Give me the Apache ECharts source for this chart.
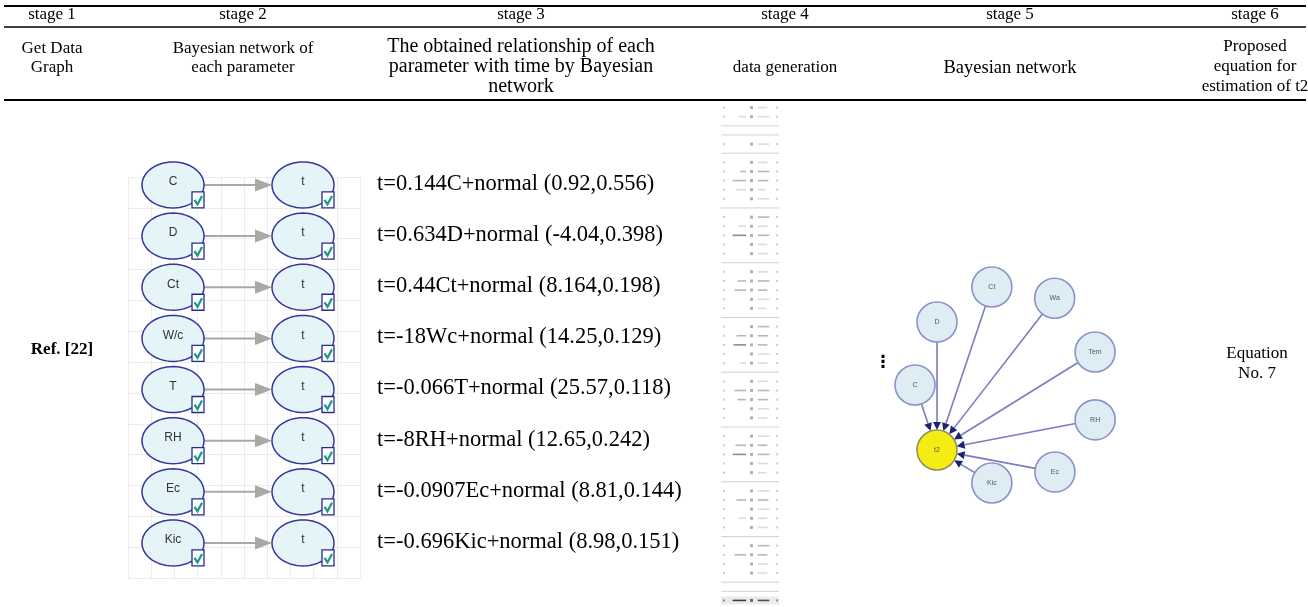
<!DOCTYPE html>
<html><head><meta charset="utf-8">
<script src="https://cdn.jsdelivr.net/npm/echarts@6/dist/echarts.min.js"></script>
<style>html,body{margin:0;padding:0;background:#fff}#c{width:1308px;height:607px}</style>
</head><body><div id="c"></div>
<script>
// ---------------- data ----------------
const stageLabels = ['stage 1', 'stage 2', 'stage 3', 'stage 4', 'stage 5', 'stage 6'];
const stageTitles = [
  ['Get Data', 'Graph'],
  ['Bayesian network of', 'each parameter'],
  ['The obtained relationship of each', 'parameter with time by Bayesian', 'network'],
  ['data generation'],
  ['Bayesian network'],
  ['Proposed', 'equation for', 'estimation of t2']
];
const refLabel = 'Ref. [22]';
const params = ['C', 'D', 'Ct', 'W/c', 'T', 'RH', 'Ec', 'Kic'];
const targetNode = 't';
const equations = [
  't=0.144C+normal (0.92,0.556)',
  't=0.634D+normal (-4.04,0.398)',
  't=0.44Ct+normal (8.164,0.198)',
  't=-18Wc+normal (14.25,0.129)',
  't=-0.066T+normal (25.57,0.118)',
  't=-8RH+normal (12.65,0.242)',
  't=-0.0907Ec+normal (8.81,0.144)',
  't=-0.696Kic+normal (8.98,0.151)'
];
const netNodes = ['C', 'D', 'Ct', 'Wa', 'Tem', 'RH', 'Ec', 'Kic'];
const netAngles = [108.7, 90, 71.4, 52.2, 31.8, 10.8, -10.6, -31];
const netRadii = [68.6, 128, 172, 192, 186, 161, 120, 64];
const netTarget = 't2';
const ellipsisMark = '\u22EE';
const resultText = ['Equation', 'No. 7'];
// data-generation strip rows: [type, col1 dash, col2 dash, shade]; type 0 = rule, 1 = row, 2 = dark row
const stripRows = [
  [1,0,10,0],[1,8,12,0],
  [0,0,0,0],[0,0,0,0],[1,0,12,0],[0,0,0,0],[1,0,10,0],[1,6,12,1],[1,14,11,1],[1,10,8,0],[1,0,12,0],
  [0,0,0,0],[1,0,12,1],[1,8,10,0],[1,14,12,2],[1,0,10,0],[1,0,11,0],
  [0,0,0,0],[1,0,11,0],[1,9,12,1],[1,12,10,1],[1,0,12,0],[1,0,9,0],
  [0,0,0,0],[1,0,12,1],[1,10,11,1],[1,13,10,2],[1,0,12,0],[1,6,10,0],
  [0,0,0,0],[1,0,11,0],[1,12,12,1],[1,9,11,1],[1,0,12,0],[1,0,10,0],
  [0,0,0,0],[1,0,12,0],[1,11,10,1],[1,14,12,2],[1,0,11,0],[1,0,9,0],
  [0,0,0,0],[1,0,12,0],[1,10,11,1],[1,0,12,0],[1,8,10,0],[1,0,11,0],
  [0,0,0,0],[1,0,12,1],[1,12,10,1],[1,0,11,0],[1,0,10,0],
  [0,0,0,0],[0,0,0,0],[2,14,12,2]
];

// ---------------- chart ----------------
const SERIF = '"Liberation Serif","Times New Roman",serif';
const chart = echarts.init(document.getElementById('c'));

function ellipsePts(cx, cy, rx, ry) {
  const pts = [];
  for (let k = 0; k < 60; k++) {
    const a = k / 60 * Math.PI * 2;
    pts.push([cx + rx * Math.cos(a), cy + ry * Math.sin(a)]);
  }
  return pts;
}
function txt(text, x, y, font, fill, align) {
  return { type: 'text', style: { text: text, x: x, y: y, font: font, fill: fill || '#000',
    align: align || 'center', verticalAlign: 'middle', textAlign: align || 'center', textVerticalAlign: 'middle' } };
}
function nodeEllipse(cx, cy, label) {
  return [
    { type: 'polygon', shape: { points: ellipsePts(cx, cy, 31, 23) }, style: { fill: '#e4f4f7', stroke: '#36369c', lineWidth: 1.5 } },
    txt(label, cx, cy - 3, '12px "Liberation Sans", Arial, sans-serif', '#333'),
    { type: 'rect', shape: { x: cx + 19, y: cy + 7, width: 12, height: 16 }, style: { fill: '#fff', stroke: '#2a2a8c', lineWidth: 1.3 } },
    { type: 'polyline', shape: { points: [[cx + 21.5, cy + 15], [cx + 24.5, cy + 19.5], [cx + 29, cy + 11]] }, style: { stroke: '#159a86', lineWidth: 2.2, fill: null } }
  ];
}

const graphic = [];
graphic.push({ type: 'line', shape: { x1: 4, y1: 6, x2: 1306, y2: 6 }, style: { stroke: '#000', lineWidth: 2 } });
graphic.push({ type: 'line', shape: { x1: 4, y1: 27, x2: 1306, y2: 27 }, style: { stroke: '#000', lineWidth: 1.3 } });
graphic.push({ type: 'line', shape: { x1: 4, y1: 100, x2: 1306, y2: 100 }, style: { stroke: '#000', lineWidth: 2 } });
const colX = [52, 243, 521, 785, 1010, 1255];
const titleSize = [17, 17, 20, 17, 18.5, 17];
stageLabels.forEach(function (s, i) {
  graphic.push(txt(s, colX[i], 15, '17px ' + SERIF));
  const lines = stageTitles[i];
  let ys;
  if (lines.length === 3) ys = [47, 67, 87];
  else if (lines.length === 2) ys = [49, 68];
  else ys = [68];
  lines.forEach(function (l, j) { graphic.push(txt(l, colX[i], ys[j], titleSize[i] + 'px ' + SERIF)); });
});
graphic.push(txt(refLabel, 62, 350, 'bold 17px ' + SERIF));
graphic.push(txt(ellipsisMark, 883, 363, 'bold 17px "DejaVu Sans", sans-serif'));
graphic.push(txt(resultText[0], 1257, 354, '17px ' + SERIF));
graphic.push(txt(resultText[1], 1257, 374, '17px ' + SERIF));

const option = {
  animation: false,
  backgroundColor: '#fff',
  graphic: graphic,
  grid: [
    { left: 108, top: 159.4, width: 585, height: 409.1 },
    { left: 128, top: 177, width: 232, height: 401 },
    { left: 721, top: 103, width: 58, height: 502 }
  ],
  polar: { center: [937, 450], radius: 200 },
  angleAxis: { type: 'value', min: -180, max: 180, startAngle: 180, clockwise: false, show: false },
  radiusAxis: { type: 'value', min: 0, max: 200, show: false },
  xAxis: [
    { gridIndex: 0, type: 'value', min: -0.5, max: 4, show: false },
    { gridIndex: 1, type: 'value', min: 0, max: 10, interval: 1, axisLine: { show: false }, axisTick: { show: false }, axisLabel: { show: false }, splitLine: { lineStyle: { color: '#ececec', width: 1 } } },
    { gridIndex: 2, type: 'value', min: 0, max: 60, show: false }
  ],
  yAxis: [
    { gridIndex: 0, type: 'category', data: params, inverse: true, show: false },
    { gridIndex: 1, type: 'value', min: 0, max: 13, interval: 1, axisLine: { show: false }, axisTick: { show: false }, axisLabel: { show: false }, splitLine: { lineStyle: { color: '#ececec', width: 1 } } },
    { gridIndex: 2, type: 'category', data: stripRows.map(function (r, i) { return String(i); }), inverse: true, show: false }
  ],
  series: [
    { type: 'scatter', xAxisIndex: 1, yAxisIndex: 1, data: [], silent: true },
    { // stage 2: parameter -> t networks
      type: 'custom', xAxisIndex: 0, yAxisIndex: 0, silent: true,
      data: params.map(function (p, i) { return [i]; }),
      renderItem: function (ps, api) {
        const idx = api.value(0);
        const a = api.coord([0, idx]);
        const b = api.coord([1, idx]);
        const cy = a[1];
        const children = [
          { type: 'line', shape: { x1: a[0] + 31, y1: cy, x2: b[0] - 31 - 14, y2: cy }, style: { stroke: '#a8a8a8', lineWidth: 2 } },
          { type: 'polygon', shape: { points: [[b[0] - 31, cy], [b[0] - 31 - 17, cy - 6.5], [b[0] - 31 - 17, cy + 6.5]] }, style: { fill: '#a8a8a8' } }
        ].concat(nodeEllipse(a[0], cy, params[idx])).concat(nodeEllipse(b[0], cy, targetNode));
        return { type: 'group', children: children };
      }
    },
    { // stage 3: equations
      type: 'custom', xAxisIndex: 0, yAxisIndex: 0, silent: true,
      data: equations.map(function (e, i) { return [i]; }),
      renderItem: function (ps, api) {
        const idx = api.value(0);
        const p = api.coord([1.57, idx]);
        return txt(equations[idx], p[0], p[1] - 1, '22.5px ' + SERIF, '#000', 'left');
      }
    },
    { // stage 4: data generation strip
      type: 'custom', xAxisIndex: 2, yAxisIndex: 2, silent: true,
      data: stripRows.map(function (r, i) { return [i]; }),
      renderItem: function (ps, api) {
        const idx = api.value(0);
        const r = stripRows[idx];
        const y = api.coord([0, idx])[1];
        const X = function (v) { return api.coord([v, idx])[0]; };
        const shades = ['#dcdcdc', '#b8b8b8', '#8c8c8c'];
        if (r[0] === 0) {
          return { type: 'line', shape: { x1: X(0), y1: y, x2: X(60), y2: y }, style: { stroke: '#d2d2d2', lineWidth: 1 } };
        }
        const dark = r[0] === 2;
        const ch = [
          { type: 'rect', shape: { x: X(2), y: y - 1, width: 2, height: 2 }, style: { fill: dark ? '#999' : '#cccccc' } },
          { type: 'rect', shape: { x: X(30), y: y - 1.5, width: 3, height: 3 }, style: { fill: dark ? '#777' : '#b0b0b0' } },
          { type: 'rect', shape: { x: X(57), y: y - 1, width: 2, height: 2 }, style: { fill: dark ? '#999' : '#cccccc' } },
          { type: 'rect', shape: { x: X(38), y: y - 0.8, width: X(38 + r[2]) - X(38), height: 1.6 }, style: { fill: dark ? '#555' : shades[Math.min(r[3], 1)] } }
        ];
        if (r[1] > 0) {
          ch.push({ type: 'rect', shape: { x: X(26 - r[1]), y: y - 0.8, width: X(26) - X(26 - r[1]), height: 1.6 }, style: { fill: dark ? '#444' : shades[r[3]] } });
        }
        if (dark) {
          ch.push({ type: 'rect', shape: { x: X(0), y: y - 4, width: X(60) - X(0), height: 8 }, style: { fill: 'rgba(0,0,0,0.08)' } });
        }
        return { type: 'group', children: ch };
      }
    },
    { // stage 5: edges
      type: 'custom', coordinateSystem: 'polar', polarIndex: 0, silent: true,
      data: netNodes.map(function (n, i) { return [netRadii[i], netAngles[i]]; }),
      renderItem: function (ps, api) {
        const p = api.coord([api.value(0), api.value(1)]);
        const q = api.coord([0, 0]);
        const dx = q[0] - p[0], dy = q[1] - p[1];
        const L = Math.sqrt(dx * dx + dy * dy);
        const ux = dx / L, uy = dy / L;
        const tip = [q[0] - ux * 20, q[1] - uy * 20];
        const base = [tip[0] - ux * 8, tip[1] - uy * 8];
        return { type: 'group', children: [
          { type: 'line', shape: { x1: p[0] + ux * 20, y1: p[1] + uy * 20, x2: base[0], y2: base[1] }, style: { stroke: '#7a7dbf', lineWidth: 1.6 } },
          { type: 'polygon', shape: { points: [tip, [base[0] - uy * 4, base[1] + ux * 4], [base[0] + uy * 4, base[1] - ux * 4]] }, style: { fill: '#1c2470' } }
        ] };
      }
    },
    { // stage 5: nodes
      type: 'custom', coordinateSystem: 'polar', polarIndex: 0, silent: true, z: 3,
      data: netNodes.map(function (n, i) { return [netRadii[i], netAngles[i], n]; }).concat([[0, 0, netTarget]]),
      renderItem: function (ps, api) {
        const p = api.coord([api.value(0), api.value(1)]);
        const isTarget = ps.dataIndex === netNodes.length;
        const name = isTarget ? netTarget : netNodes[ps.dataIndex];
        return { type: 'group', children: [
          { type: 'circle', shape: { cx: p[0], cy: p[1], r: 20 }, style: isTarget ? { fill: '#f4ec14', stroke: '#8f8c5c', lineWidth: 1.5 } : { fill: '#deedf3', stroke: '#8d91c8', lineWidth: 1.6 } },
          txt(name, p[0], p[1], '7px "Liberation Sans", Arial, sans-serif', '#555')
        ] };
      }
    }
  ]
};
chart.setOption(option);
</script>
</body></html>
